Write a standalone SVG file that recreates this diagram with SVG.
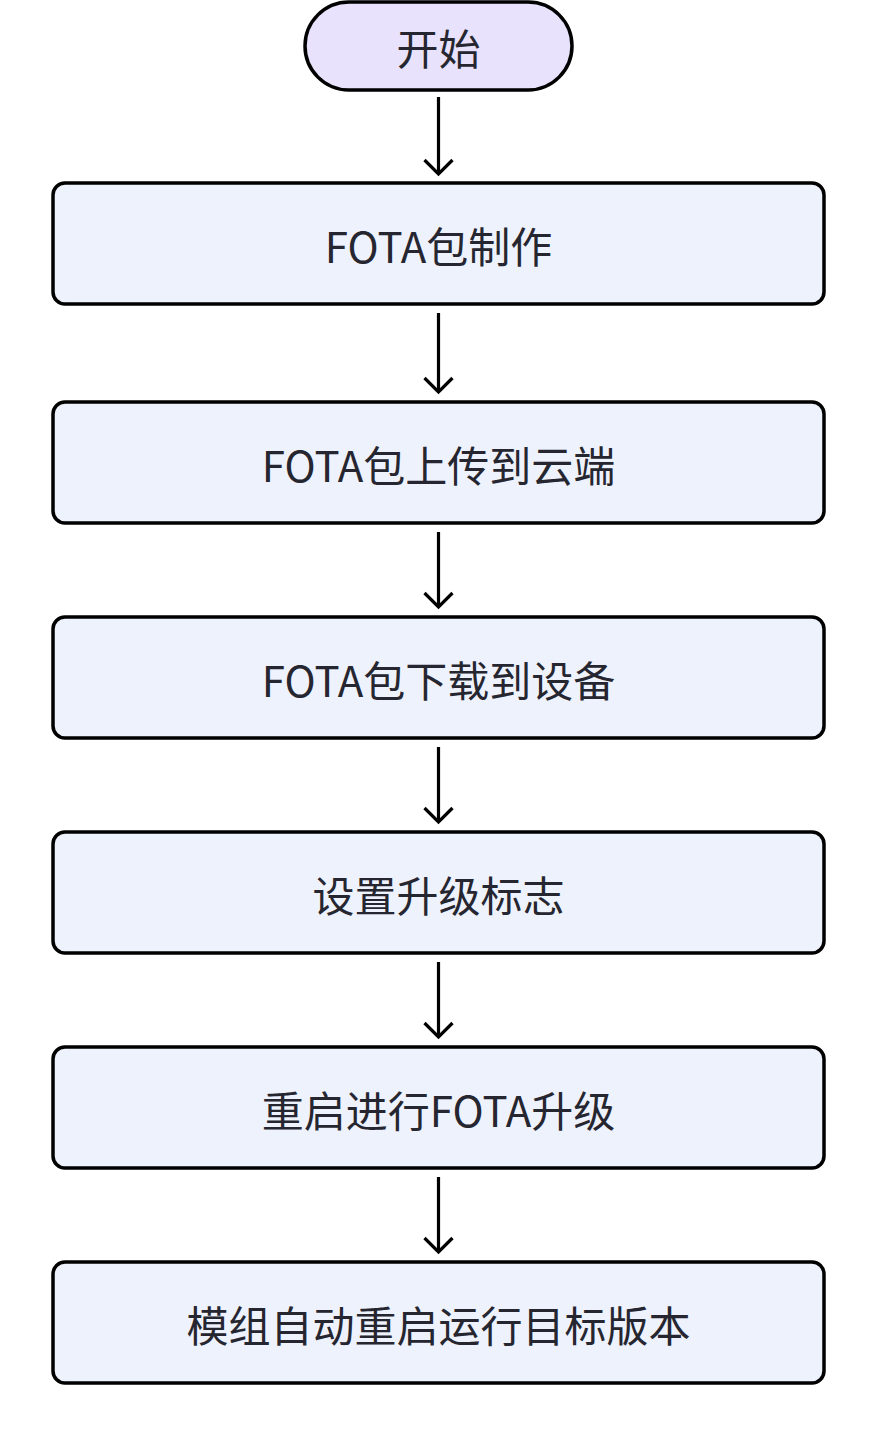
<svg xmlns="http://www.w3.org/2000/svg" width="877" height="1434" viewBox="0 0 877 1434">
<defs>
<style>
.box{fill:#eef2fc;stroke:#000;stroke-width:3.5}
.start{fill:#e8e2fc;stroke:#000;stroke-width:3.5}
.lbl{font-family:"Noto Sans CJK SC","Noto Sans",sans-serif;font-size:42px;fill:#262630;text-anchor:middle;dominant-baseline:central}
.edge{stroke:#000;stroke-width:3.2;fill:none}
</style>
<marker id="arr" viewBox="0 0 20 32" refX="17" refY="16" markerWidth="20" markerHeight="32" markerUnits="userSpaceOnUse" orient="auto">
<path d="M3,2 L17,16 L3,30" fill="none" stroke="#000" stroke-width="3.2" stroke-linejoin="miter"/>
</marker>
</defs>
<rect width="877" height="1434" fill="#fff"/>
<g id="start">
<rect class="start" x="305" y="2" width="267" height="88" rx="44"/>
<text class="lbl" x="438.5" y="46">开始</text>
</g>
<g id="n1">
<rect class="box" x="53" y="183" width="771" height="121" rx="12"/>
<text class="lbl" x="438.5" y="244">FOTA包制作</text>
</g>
<g id="n2">
<rect class="box" x="53" y="402" width="771" height="121" rx="12"/>
<text class="lbl" x="438.5" y="463">FOTA包上传到云端</text>
</g>
<g id="n3">
<rect class="box" x="53" y="617" width="771" height="121" rx="12"/>
<text class="lbl" x="438.5" y="678">FOTA包下载到设备</text>
</g>
<g id="n4">
<rect class="box" x="53" y="832" width="771" height="121" rx="12"/>
<text class="lbl" x="438.5" y="893">设置升级标志</text>
</g>
<g id="n5">
<rect class="box" x="53" y="1047" width="771" height="121" rx="12"/>
<text class="lbl" x="438.5" y="1108">重启进行FOTA升级</text>
</g>
<g id="n6">
<rect class="box" x="53" y="1262" width="771" height="121" rx="12"/>
<text class="lbl" x="438.5" y="1323">模组自动重启运行目标版本</text>
</g>
<g id="edges">
<line class="edge" x1="438.5" y1="97" x2="438.5" y2="174" marker-end="url(#arr)"/>
<line class="edge" x1="438.5" y1="313" x2="438.5" y2="392" marker-end="url(#arr)"/>
<line class="edge" x1="438.5" y1="532" x2="438.5" y2="607" marker-end="url(#arr)"/>
<line class="edge" x1="438.5" y1="747" x2="438.5" y2="822" marker-end="url(#arr)"/>
<line class="edge" x1="438.5" y1="962" x2="438.5" y2="1037" marker-end="url(#arr)"/>
<line class="edge" x1="438.5" y1="1177" x2="438.5" y2="1252" marker-end="url(#arr)"/>
</g>
</svg>
